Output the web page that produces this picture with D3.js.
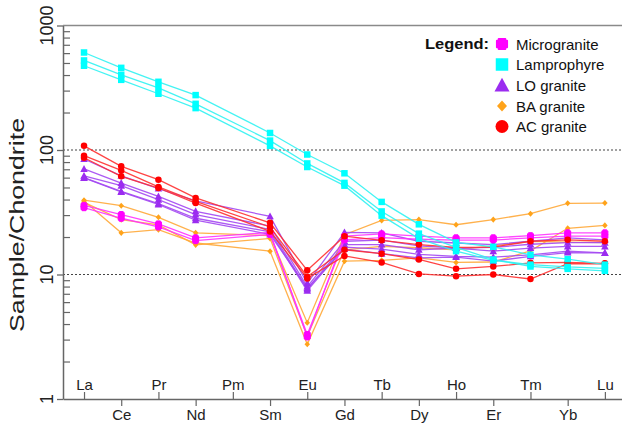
<!DOCTYPE html>
<html><head><meta charset="utf-8">
<script src="https://cdn.jsdelivr.net/npm/d3@7"></script>
<style>body{margin:0;background:#fff}svg{display:block;font-family:Arial,"Liberation Sans",sans-serif}</style>
</head><body><svg id="c" width="622" height="423"></svg>
<script>
// ---- data ----
const elements = ["La","Ce","Pr","Nd","Pm","Sm","Eu","Gd","Tb","Dy","Ho","Er","Tm","Yb","Lu"];
const upperLabels = ["La","Pr","Pm","Eu","Tb","Ho","Tm","Lu"];
const lowerLabels = ["Ce","Nd","Sm","Gd","Dy","Er","Yb"];
const yTicks = [1,10,100,1000];
const gridValues = [10,100];
const legendLabels = ["Microgranite","Lamprophyre","LO granite","BA granite","AC granite"];

const microgranite = [
 [35.9,30.3,25.5,19.7,null,21.8,3.15,20.3,21.2,20.3,19.7,19.7,20.5,21.6,21.6],
 [34.4,28.3,24.1,18.7,null,21.0,3.3,19.0,19.8,19.2,18.9,18.9,19.7,20.3,20.3]
];
const lamprophyre = [
 [607,457,353,276,null,137,92,65,38.3,25.3,18.1,16.7,14.4,13.3,12.0],
 [524,402,315,235,null,119,78,54.4,32.1,21.3,16.5,13.2,11.6,11.1,10.7],
 [475,366,283,217,null,108,73,51.7,29.7,19.4,15.4,13.0,12.0,11.5,11.2]
];
const loGranite = [
 [84.7,62,49,39,null,29.3,8.5,21.8,21.6,18.5,17.9,17.4,18.5,19.7,19.0],
 [70.4,54.3,42.4,32.2,null,24.5,8.0,18.5,18.9,17.0,16.3,16.5,17.5,18.0,18.0],
 [62,51.7,39.9,30.3,null,23,7.6,17.4,17.4,15.8,16.3,15.4,16.3,16.8,16.8],
 [60,46.5,37.1,28.3,null,22,7.4,16.6,16.0,14.5,14.0,13.8,14.4,15.4,14.9],
 [59.6,46,36.5,27.3,null,21,7.8,16.0,14.7,13.6,13.8,12.8,14.0,15.0,14.9]
];
const baGranite = [
 [39.5,35.7,28.8,21.6,null,20.5,4.1,20.9,27.2,27.6,25.1,27.6,30.8,37.3,37.5],
 [39,21.6,22.9,17.9,null,15.4,2.75,12.8,13.0,13.6,12.5,12.6,15.5,23.5,24.8],
 [38,27.6,25,17.3,null,19.5,3.2,15.8,16.8,16.4,15.8,17,18.5,18.2,18]
];
const acGranite = [
 [108,73.9,57.8,41.2,null,26,10.8,20.3,18.8,17.4,16.5,16.6,18.5,19,18.5],
 [90,68.6,50.5,38.7,null,24.1,9.6,15.8,14.7,13.2,11.1,11.6,12.4,12.5,12.3],
 [86.7,61.4,49.5,37.5,null,22.2,9.3,14.1,12.5,10.1,9.7,10.0,9.2,12.2,12.2]
];

// ---- styles ----
const groups = [
 {name:"BA granite", data:baGranite, fill:"#FFA31A", line:"#FFA838", shape:"diamond", size:5.5},
 {name:"LO granite", data:loGranite, fill:"#9B2CF0", line:"#A348F2", shape:"triangle", size:7.5},
 {name:"Microgranite", data:microgranite, fill:"#FF00FF", line:"#FF33FF", shape:"cross", size:6.5},
 {name:"AC granite", data:acGranite, fill:"#FF0000", line:"#FF3030", shape:"circle", size:6.5},
 {name:"Lamprophyre", data:lamprophyre, fill:"#00FFFF", line:"#30F2F2", shape:"square", size:6.5}
];

function shapePath(shape, s){
  const h=s/2;
  if(shape==="square") return `M${-h},${-h}H${h}V${h}H${-h}Z`;
  if(shape==="diamond") return `M0,${-h*1.1}L${h},0L0,${h*1.1}L${-h},0Z`;
  if(shape==="triangle") return `M0,${-h*1.05}L${h},${h*0.8}L${-h},${h*0.8}Z`;
  if(shape==="circle") return `M${h},0A${h},${h} 0 1,1 ${-h},0A${h},${h} 0 1,1 ${h},0Z`;
  if(shape==="cross"){ const a=s*0.3, b=h*0.92; return `M${-a},${-b}H${a}V${-a}H${b}V${a}H${a}V${b}H${-a}V${a}H${-b}V${-a}H${-a}Z`; }
}

const svg = d3.select("#c");
const x = d3.scaleLinear().domain([-0.565, 14.46]).range([63, 622]);
const y = d3.scaleLog().domain([1,1000]).range([399, 25.5]);
const axisColor="#666";

// gridlines
svg.selectAll(".grid").data(gridValues).join("line")
  .attr("x1",63).attr("x2",622).attr("y1",d=>y(d)).attr("y2",d=>y(d))
  .attr("stroke","#444").attr("stroke-width",1.2).attr("stroke-dasharray","2,2");

// top border
svg.append("line").attr("x1",63).attr("x2",622).attr("y1",y(1000)).attr("y2",y(1000))
  .attr("stroke","#8a8a8a").attr("stroke-width",1.6);

// y axis major (outside)
const yAx = svg.append("g").attr("transform","translate(63,0)")
  .call(d3.axisLeft(y).tickValues(yTicks).tickSize(6).tickSizeOuter(0).tickFormat(""));
yAx.select(".domain").attr("stroke",axisColor).attr("stroke-width",1.5);
yAx.selectAll(".tick line").attr("stroke",axisColor).attr("stroke-width",1.3);
// minor ticks (inside)
const minor=[];
[1,10,100].forEach(d=>{for(let k=2;k<=9;k++) minor.push(d*k);});
const yMin = svg.append("g").attr("transform","translate(63,0)")
  .call(d3.axisRight(y).tickValues(minor).tickSize(7).tickFormat(""));
yMin.select(".domain").remove();
yMin.selectAll(".tick line").attr("stroke",axisColor).attr("stroke-width",1.2);
// y tick labels rotated
svg.selectAll(".ylab").data(yTicks).join("text")
  .attr("transform",d=>`translate(53,${y(d)}) rotate(-90)`)
  .attr("text-anchor","middle").attr("font-size",18).attr("fill","#222")
  .text(d=>d);
// y title
svg.append("text").attr("transform","translate(24,225) rotate(-90)")
  .attr("text-anchor","middle").attr("font-size",21).attr("fill","#222")
  .attr("textLength",214).attr("lengthAdjust","spacingAndGlyphs")
  .text("Sample/Chondrite");

// x axes
const upIdx = upperLabels.map(l=>elements.indexOf(l));
const loIdx = lowerLabels.map(l=>elements.indexOf(l));
const xTop = svg.append("g").attr("transform","translate(0,399)")
  .call(d3.axisTop(x).tickValues(upIdx).tickSize(7).tickSizeOuter(0).tickPadding(2).tickFormat(i=>elements[i]));
const xBot = svg.append("g").attr("transform","translate(0,399)")
  .call(d3.axisBottom(x).tickValues(loIdx).tickSize(7).tickSizeOuter(0).tickPadding(3).tickFormat(i=>elements[i]));
[xTop,xBot].forEach(g=>{
  g.select(".domain").attr("stroke",axisColor).attr("stroke-width",1.5);
  g.selectAll(".tick line").attr("stroke",axisColor).attr("stroke-width",1.2);
  g.selectAll("text").attr("font-size",15).attr("fill","#222").attr("font-family","Arial, 'Liberation Sans', sans-serif");
});
xTop.select(".domain").remove();

// series
const line = d3.line().x(d=>x(d.i)).y(d=>y(d.v));
groups.forEach(g=>{
  const G = svg.append("g");
  g.data.forEach(row=>{
    const pts = row.map((v,i)=>({i,v})).filter(d=>d.v!=null);
    G.append("path").attr("d",line(pts)).attr("fill","none")
      .attr("stroke",g.line).attr("stroke-width",1.3).attr("stroke-opacity",0.9);
  });
  g.data.forEach(row=>{
    const pts = row.map((v,i)=>({i,v})).filter(d=>d.v!=null);
    G.selectAll(null).data(pts).join("path")
      .attr("transform",d=>`translate(${x(d.i)},${y(d.v)})`)
      .attr("d",shapePath(g.shape,g.size)).attr("fill",g.fill)
      .attr("stroke",g.shape==="cross"?g.fill:"none").attr("stroke-width",g.shape==="cross"?1:0)
      .attr("stroke-linejoin","round");
  });
});

// legend
const lg = svg.append("g");
lg.append("text").attr("x",425).attr("y",49).attr("font-size",15.5).attr("font-weight","bold")
  .attr("fill","#111").attr("textLength",64).attr("lengthAdjust","spacingAndGlyphs").text("Legend:");
const legRows = [
 {label:legendLabels[0], fill:"#FF00FF", shape:"cross", size:11, y:44},
 {label:legendLabels[1], fill:"#00FFFF", shape:"square", size:12.5, y:64.5},
 {label:legendLabels[2], fill:"#9B2CF0", shape:"triangle", size:15, y:85.5},
 {label:legendLabels[3], fill:"#FFA31A", shape:"diamond", size:10, y:106},
 {label:legendLabels[4], fill:"#FF0000", shape:"circle", size:13, y:126.5}
];
legRows.forEach(r=>{
  lg.append("path").attr("transform",`translate(502,${r.y})`).attr("d",shapePath(r.shape,r.size)).attr("fill",r.fill)
    .attr("stroke",r.shape==="cross"?r.fill:"none").attr("stroke-width",r.shape==="cross"?2:0).attr("stroke-linejoin","round");
  lg.append("text").attr("x",516).attr("y",r.y+5.5).attr("font-size",15).attr("fill","#111").text(r.label);
});
</script></body></html>
